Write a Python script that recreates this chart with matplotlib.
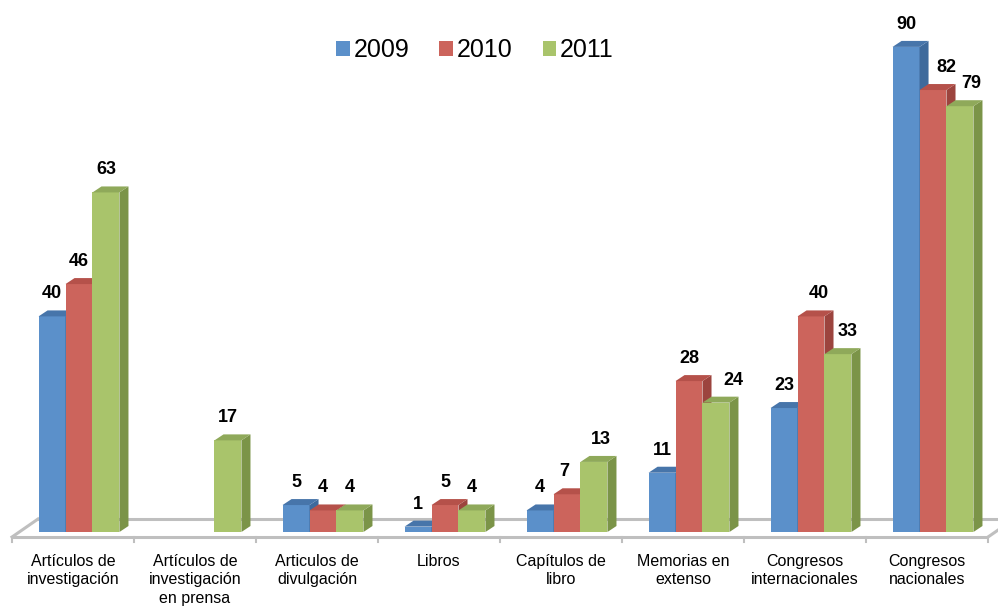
import numpy as np
import matplotlib.pyplot as plt
from matplotlib.patches import Polygon, Patch

categories = ["Artículos de\ninvestigación", "Artículos de\ninvestigación\nen prensa",
              "Articulos de\ndivulgación", "Libros", "Capítulos de\nlibro",
              "Memorias en\nextenso", "Congresos\ninternacionales", "Congresos\nnacionales"]
years = ["2009", "2010", "2011"]
v2009 = [40, 0, 5, 1, 4, 11, 23, 90]
v2010 = [46, 0, 4, 5, 7, 28, 40, 82]
v2011 = [63, 17, 4, 4, 13, 24, 33, 79]
series = [v2009, v2010, v2011]

# sideways nudge of some value labels, in pixels (as placed in the original)
label_dx = [[0, 0, 0], [0, 0, 0], [0, 0, 0], [0, 0, 0],
            [0, -3, 7], [0, 0, 17], [0, 8, 10], [0, 13, 11]]

front = ["#5B90CA", "#CC645C", "#A9C46B"]
side = ["#3E6A9C", "#9C443E", "#7B9448"]
top = ["#4775AA", "#B5514A", "#8FA95A"]

fig = plt.figure(figsize=(9.98, 6.10), dpi=100)
ax = fig.add_axes([0, 0, 1, 1])
ax.axis("off")
# pixel mapping: bar group centre at 79 + 122*i px, value 0 at y=532 px, 5.39 px per unit
ax.set_xlim(-79 / 122, (998 - 79) / 122)
ax.set_ylim(-78 / 5.39, (610 - 78) / 5.39)

w = 0.221   # bar width
dx = 0.074  # depth offset (x)
dy = 1.11   # depth offset (y)

# floor
floor_c = "#BFBFBF"
yf, yb = -0.93, 2.41
xl = -0.549
xr = xl + 8
ax.plot([xl, xr], [yf, yf], color=floor_c, lw=2.2, zorder=1, solid_capstyle="butt")
ax.plot([xl + 0.213, xr + 0.213], [yb, yb], color=floor_c, lw=2.2, zorder=1)
ax.plot([xl, xl + 0.213], [yf, yb], color=floor_c, lw=2.2, zorder=1)
ax.plot([xr, xr + 0.213], [yf, yb], color=floor_c, lw=2.2, zorder=1)
for i in range(9):
    ax.plot([xl + i, xl + i], [yf, yf - 1.0], color=floor_c, lw=1.5, zorder=1)

z = 2
for i in range(len(categories)):
    for j, vals in enumerate(series):
        h = vals[i]
        if h == 0:
            continue
        x0 = i + (j - 1) * w - w / 2
        ax.bar(x0, h, w, align="edge", color=front[j], zorder=z, linewidth=0)
        ax.add_patch(Polygon([(x0 + w, 0), (x0 + w + dx, dy), (x0 + w + dx, h + dy), (x0 + w, h)],
                             closed=True, facecolor=side[j], edgecolor="none", zorder=z))
        ax.add_patch(Polygon([(x0, h), (x0 + dx, h + dy), (x0 + w + dx, h + dy), (x0 + w, h)],
                             closed=True, facecolor=top[j], edgecolor="none", zorder=z))
        z += 1
        ax.annotate(str(h), (x0 + w / 2, h), xytext=(label_dx[i][j] * 0.72, 13),
                    textcoords="offset points", ha="center", va="baseline",
                    fontsize=13, fontweight="bold", family="Liberation Sans", zorder=100)

for i, lab in enumerate(categories):
    ax.text(i - 0.049, -4.0, lab, ha="center", va="top", fontsize=11.5,
            family="Liberation Sans", linespacing=1.3, color="#000000")

handles = [Patch(facecolor=c, edgecolor="none") for c in front]
fig.legend(handles, years, loc="center", bbox_to_anchor=(0.476, 0.918), ncol=3,
           frameon=False, handlelength=0.55, handleheight=0.55, handletextpad=0.15,
           columnspacing=1.2, prop={"family": "Liberation Sans", "size": 18})

fig.savefig("out.png", dpi=100)
